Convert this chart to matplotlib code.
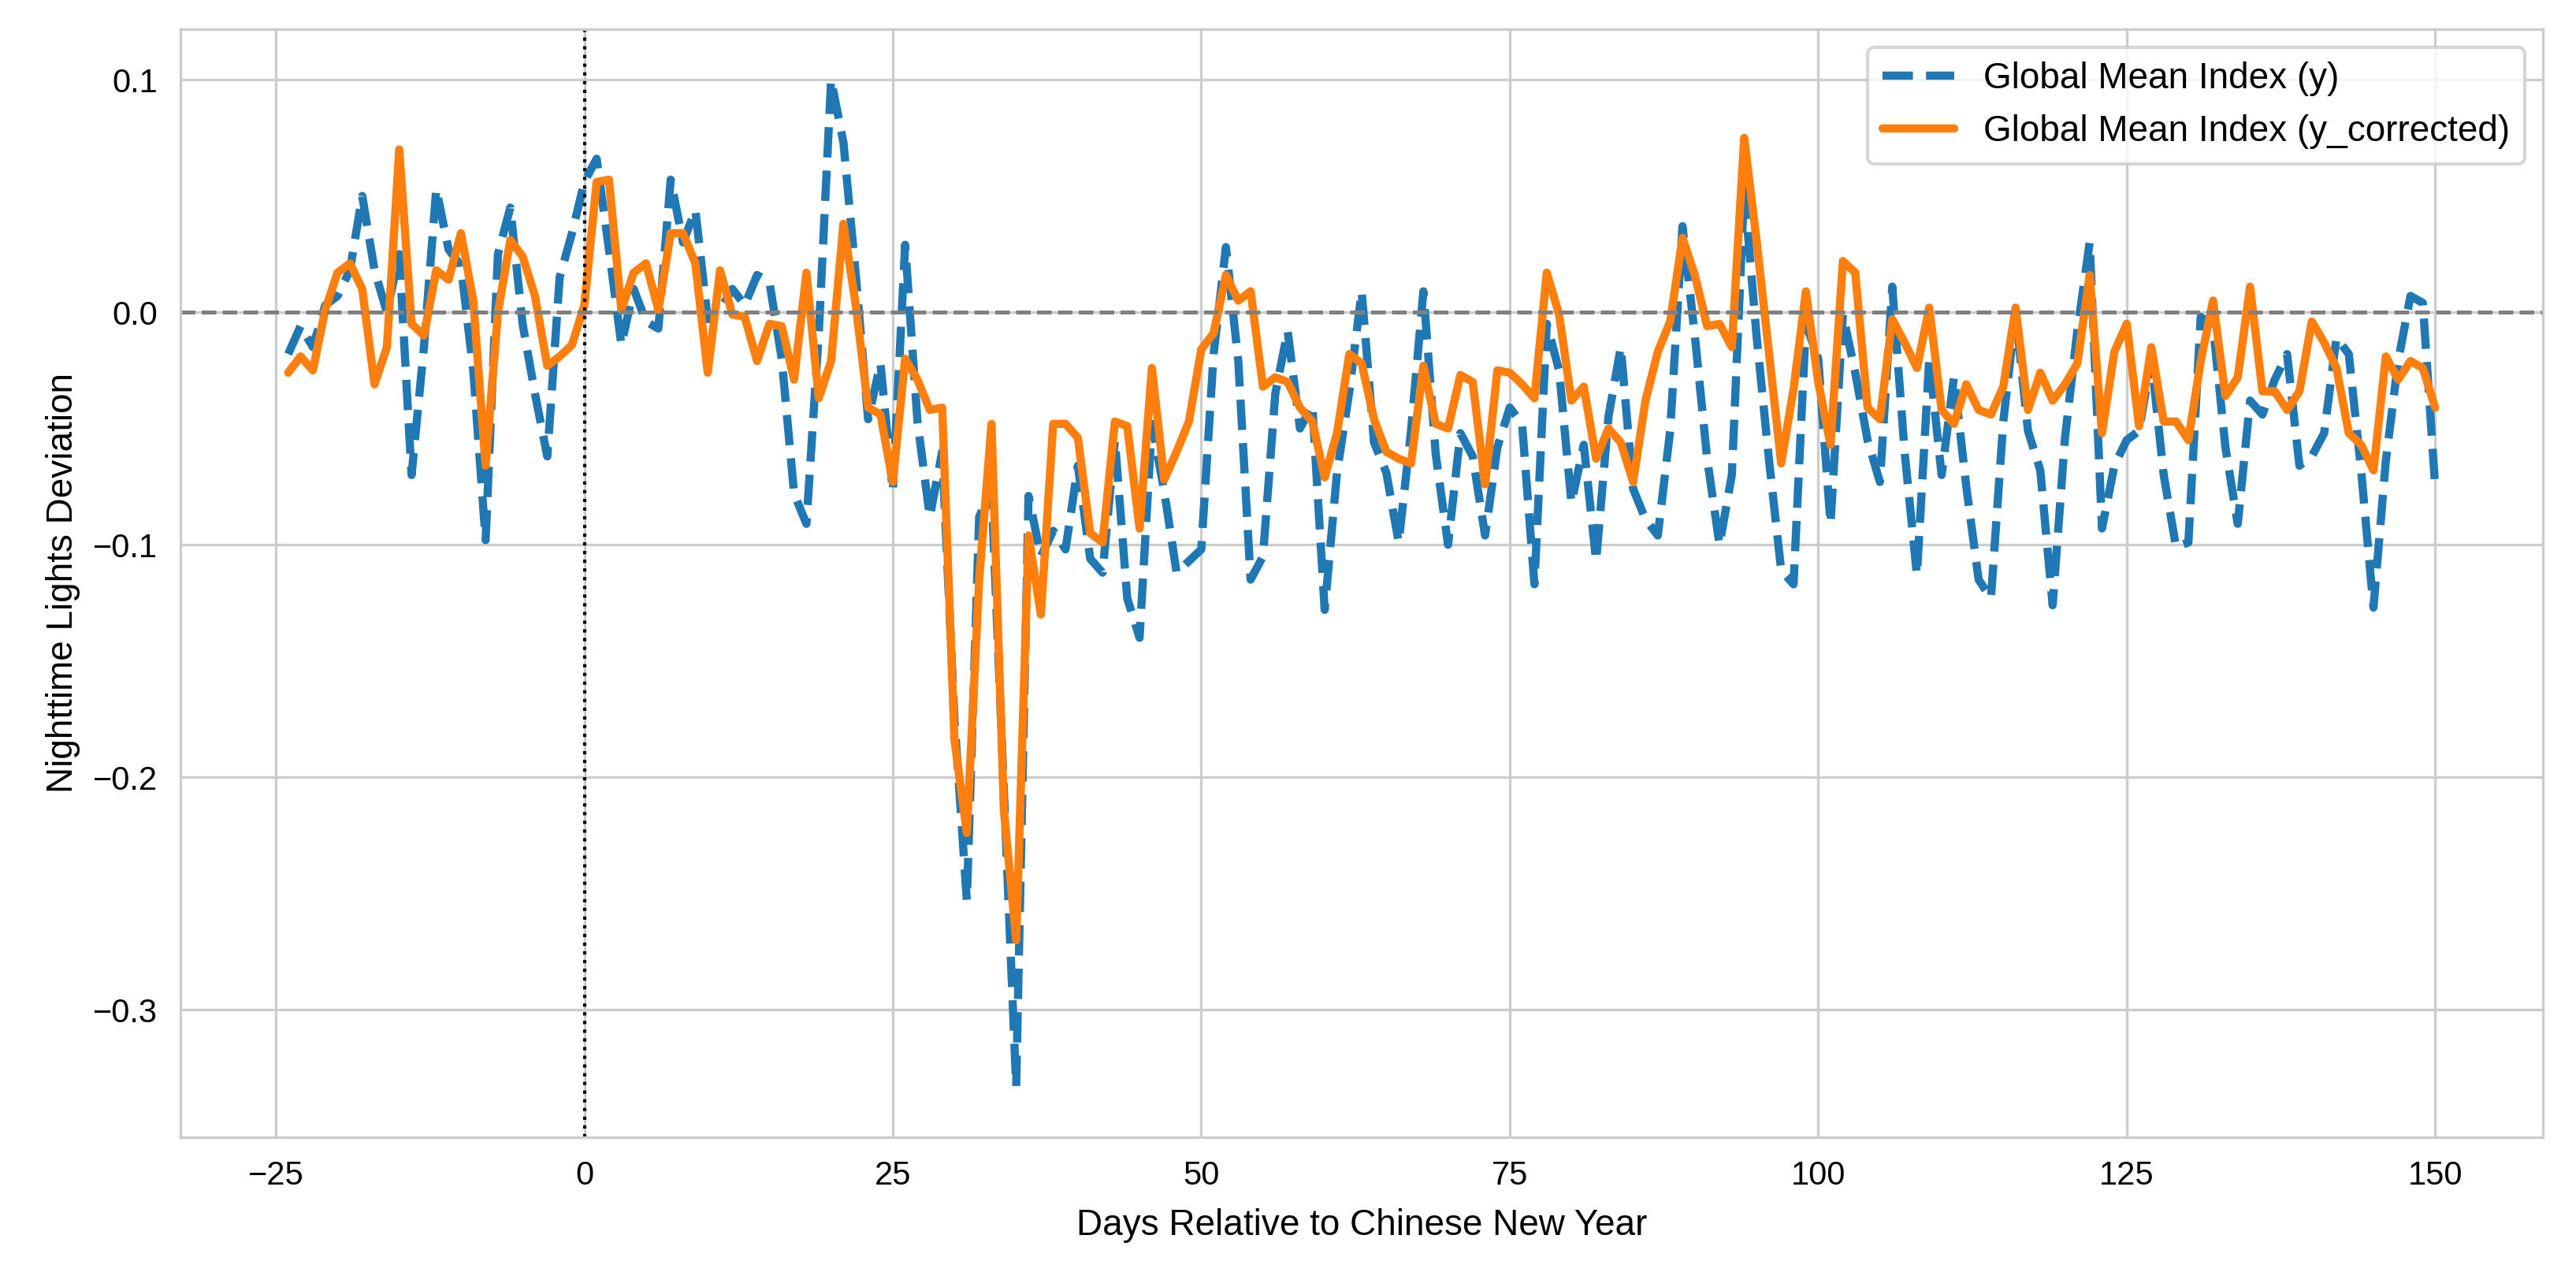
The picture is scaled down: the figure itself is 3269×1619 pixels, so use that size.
import numpy as np
import matplotlib
matplotlib.use("Agg")
import matplotlib.pyplot as plt
import seaborn as sns

days = list(range(-24, 151))

y_raw = [-0.018, -0.006, -0.015, 0.003, 0.007, 0.018, 0.050, 0.018, 0.000, 0.025,
         -0.070, -0.015, 0.053, 0.027, 0.020, -0.025, -0.098, 0.025, 0.045, -0.005,
         -0.035, -0.062, 0.015, 0.034, 0.056, 0.066, 0.027, -0.014, 0.010, -0.004,
         -0.007, 0.057, 0.030, 0.044, -0.003, 0.001, 0.010, 0.003, 0.016, 0.013,
         -0.020, -0.078, -0.091, -0.009, 0.100, 0.073, 0.016, -0.046, -0.022, -0.077,
         0.029, -0.047, -0.088, -0.060, -0.175, -0.253, -0.088, -0.076, -0.205, -0.333,
         -0.079, -0.105, -0.094, -0.102, -0.066, -0.106, -0.112, -0.055, -0.123, -0.140,
         -0.048, -0.077, -0.112, -0.107, -0.102, -0.018, 0.028, -0.021, -0.115, -0.105,
         -0.035, -0.008, -0.050, -0.040, -0.128, -0.069, -0.034, 0.009, -0.056, -0.069,
         -0.099, -0.051, 0.009, -0.061, -0.100, -0.052, -0.062, -0.096, -0.058, -0.041,
         -0.048, -0.117, -0.005, -0.025, -0.082, -0.057, -0.107, -0.045, -0.015, -0.076,
         -0.089, -0.096, -0.051, 0.037, -0.010, -0.063, -0.100, -0.070, 0.053, -0.010,
         -0.063, -0.111, -0.117, -0.005, -0.020, -0.091, -0.001, -0.026, -0.055, -0.073,
         0.011, -0.060, -0.113, -0.020, -0.070, -0.028, -0.075, -0.115, -0.123, -0.047,
         0.000, -0.051, -0.068, -0.126, -0.054, -0.008, 0.030, -0.093, -0.066, -0.055,
         -0.051, -0.020, -0.070, -0.101, -0.099, -0.002, -0.006, -0.058, -0.091, -0.038,
         -0.044, -0.029, -0.018, -0.066, -0.062, -0.052, -0.011, -0.018, -0.068, -0.127,
         -0.064, -0.021, 0.007, 0.004, -0.075]

y_corrected = [-0.026, -0.019, -0.025, 0.001, 0.017, 0.021, 0.010, -0.031, -0.015, 0.070,
               -0.005, -0.010, 0.018, 0.014, 0.034, 0.005, -0.066, 0.000, 0.031, 0.024,
               0.007, -0.023, -0.019, -0.014, 0.003, 0.056, 0.057, 0.001, 0.017, 0.021,
               0.001, 0.034, 0.034, 0.021, -0.026, 0.018, -0.001, -0.002, -0.021, -0.005,
               -0.006, -0.029, 0.017, -0.037, -0.021, 0.038, 0.003, -0.041, -0.044, -0.073,
               -0.020, -0.029, -0.042, -0.041, -0.184, -0.224, -0.115, -0.048, -0.214, -0.270,
               -0.096, -0.130, -0.048, -0.048, -0.054, -0.095, -0.099, -0.047, -0.049, -0.093,
               -0.024, -0.072, -0.060, -0.047, -0.016, -0.009, 0.016, 0.005, 0.009, -0.032,
               -0.028, -0.030, -0.041, -0.047, -0.071, -0.052, -0.018, -0.022, -0.046, -0.060,
               -0.063, -0.065, -0.023, -0.048, -0.050, -0.027, -0.030, -0.074, -0.025, -0.026,
               -0.031, -0.037, 0.017, -0.001, -0.038, -0.032, -0.063, -0.050, -0.056, -0.073,
               -0.038, -0.017, -0.004, 0.032, 0.016, -0.006, -0.005, -0.015, 0.075, 0.031,
               -0.017, -0.065, -0.033, 0.009, -0.030, -0.057, 0.022, 0.017, -0.041, -0.046,
               -0.003, -0.013, -0.024, 0.002, -0.042, -0.048, -0.031, -0.042, -0.044, -0.032,
               0.002, -0.042, -0.026, -0.038, -0.031, -0.022, 0.016, -0.052, -0.017, -0.005,
               -0.049, -0.015, -0.047, -0.047, -0.055, -0.021, 0.005, -0.036, -0.028, 0.011,
               -0.034, -0.034, -0.042, -0.034, -0.004, -0.013, -0.024, -0.052, -0.057, -0.068,
               -0.019, -0.029, -0.021, -0.024, -0.041]

xticks = [-25, 0, 25, 50, 75, 100, 125, 150]
yticks = [-0.3, -0.2, -0.1, 0.0, 0.1]

sns.set_style("whitegrid")
plt.rcParams['font.family'] = ['Liberation Sans', 'DejaVu Sans']

fig = plt.figure(figsize=(3269 / 300, 1619 / 300), dpi=300)
ax = fig.add_axes([0.0702, 0.109, 0.9168, 0.868])

ax.plot(days, y_raw, linestyle='--', color='#1f77b4', linewidth=2.5,
        label='Global Mean Index (y)')
ax.plot(days, y_corrected, linestyle='-', color='#ff7f0e', linewidth=2.5,
        label='Global Mean Index (y_corrected)')
ax.axhline(0, color='gray', linestyle='--', linewidth=1.2)
ax.axvline(0, color='black', linestyle=':', linewidth=1.0)

ax.set_xticks(xticks)
ax.set_yticks(yticks)
ax.tick_params(labelsize=10, colors='black')
ax.set_xlabel('Days Relative to Chinese New Year', fontsize=11, color='black', labelpad=5)
ax.set_ylabel('Nighttime Lights Deviation', fontsize=11, color='black')
leg = ax.legend(loc='upper right', fontsize=11)
for t in leg.get_texts():
    t.set_color('black')

fig.savefig('out.png', dpi=300)
